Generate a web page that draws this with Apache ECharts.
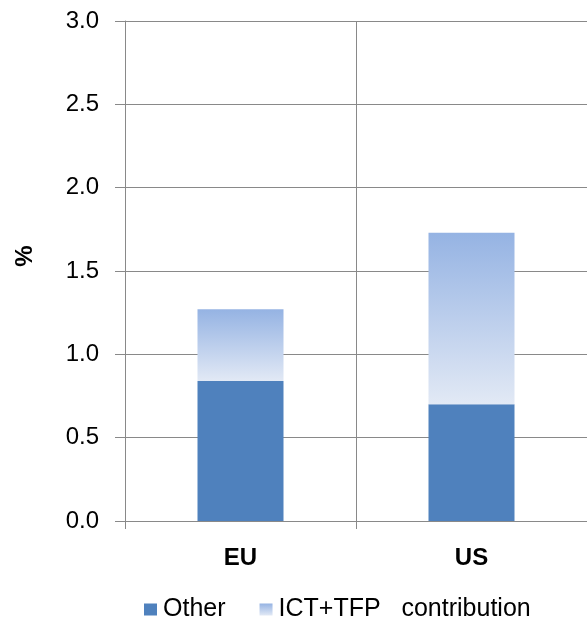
<!DOCTYPE html>
<html>
<head>
<meta charset="utf-8">
<title>Labour productivity growth: EU vs US</title>
<script src="https://cdn.jsdelivr.net/npm/echarts@6/dist/echarts.min.js"></script>
<style>
  html, body { margin: 0; padding: 0; background: #ffffff; }
  #chart { width: 587px; height: 620px; }
</style>
</head>
<body>
<div id="chart"></div>
<script>
// Regions compared
const categories = ['EU', 'US'];
// Stacked contributions, percentage points
const otherValues = [0.84, 0.70];
const ictTfpValues = [0.43, 1.03];
// Value axis range
const yMin = 0;
const yMax = 3.0;
const yStep = 0.5;

const FONT = '"Liberation Sans", Arial, sans-serif';
const GRID_COLOR = '#898989';

const chart = echarts.init(document.getElementById('chart'), null, { renderer: 'canvas' });

const ictGradient = new echarts.graphic.LinearGradient(0, 0, 0, 1, [
  { offset: 0, color: '#95b3e3' },
  { offset: 1, color: '#e2e9f5' }
]);

chart.setOption({
  animation: false,
  backgroundColor: '#ffffff',
  textStyle: { fontFamily: FONT, color: '#000' },
  grid: { left: 125, top: 21, width: 463, bottom: 99, containLabel: false },
  graphic: [{
    type: 'text',
    x: 25,
    y: 256,
    rotation: Math.PI / 2,
    style: {
      text: '%',
      font: 'bold 24px ' + FONT,
      fill: '#000',
      align: 'center',
      verticalAlign: 'middle'
    }
  }],
  legend: {
    left: 144,
    top: 597,
    padding: 0,
    itemWidth: 13,
    itemHeight: 12,
    itemGap: 34,
    icon: 'rect',
    textStyle: { fontFamily: FONT, fontSize: 25, color: '#000', padding: [0, 0, 0, 1] },
    data: ['Other', 'ICT+TFP   contribution']
  },
  xAxis: {
    type: 'category',
    data: categories,
    boundaryGap: true,
    axisLine: { show: true, lineStyle: { color: GRID_COLOR, width: 1 } },
    axisTick: { show: true, length: 8, interval: 0, lineStyle: { color: GRID_COLOR } },
    splitLine: { show: true, interval: 0, lineStyle: { color: GRID_COLOR, width: 1 } },
    axisLabel: { fontFamily: FONT, fontSize: 24, fontWeight: 'bold', color: '#000', margin: 25 }
  },
  yAxis: {
    type: 'value',
    min: yMin,
    max: yMax,
    interval: yStep,
    axisLine: { show: true, lineStyle: { color: GRID_COLOR, width: 1 } },
    axisTick: { show: true, length: 10, lineStyle: { color: GRID_COLOR } },
    splitLine: { show: true, lineStyle: { color: GRID_COLOR, width: 1 } },
    axisLabel: {
      fontFamily: FONT, fontSize: 24, color: '#000', margin: 26,
      formatter: v => v.toFixed(1)
    }
  },
  series: [
    {
      name: 'Other',
      type: 'bar',
      stack: 'total',
      barWidth: 86,
      data: otherValues,
      itemStyle: { color: '#4f81bd' }
    },
    {
      name: 'ICT+TFP   contribution',
      type: 'bar',
      stack: 'total',
      barWidth: 86,
      data: ictTfpValues,
      itemStyle: { color: ictGradient }
    }
  ]
});
</script>
</body>
</html>
